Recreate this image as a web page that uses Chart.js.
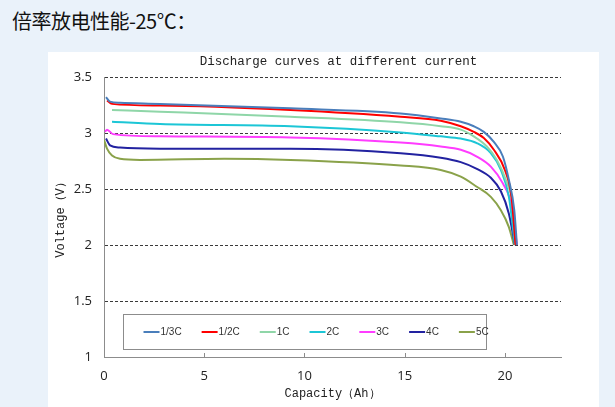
<!DOCTYPE html>
<html>
<head>
<meta charset="utf-8">
<script src="https://cdn.jsdelivr.net/npm/chart.js@4.4.1/dist/chart.umd.min.js"></script>
<style>
    html, body { margin: 0; padding: 0; }
    body { width: 615px; height: 407px; background: #eaf2fa; position: relative; overflow: hidden; }
    .page-title { position: absolute; left: 12px; top: 6px; font-family: 'Noto Sans CJK SC'; font-size: 20px; color: #111; letter-spacing: -0.5px; }
    .panel { position: absolute; left: 48px; top: 52px; width: 551px; height: 360px; background: #fff; }
    #chart { position: absolute; left: 0; top: 0; }
</style>
</head>
<body>
<div class="page-title">倍率放电性能-25℃：</div>
<div class="panel"></div>
<canvas id="chart" width="615" height="407"></canvas>
<script>
// Series labels and colours
const seriesLabels = ['1/3C', '1/2C', '1C', '2C', '3C', '4C', '5C'];
const seriesColors = ['#4a7ebb', '#ff0000', '#8fd6a8', '#1cc6d6', '#ff3cff', '#2222a0', '#8aa24a'];
const chartTitle = 'Discharge curves at different current';

// Capacity (Ah) / voltage (V), one pair per curve
const cap13 = [0.1, 0.3, 0.8, 2.8, 9.3, 14.8, 16.8, 17.8, 18.45, 18.95, 19.45, 19.9, 20.2, 20.47, 20.6];
const volt13 = [3.32, 3.28, 3.27, 3.26, 3.22, 3.175, 3.13, 3.10, 3.06, 3.01, 2.92, 2.79, 2.58, 2.31, 2.0];

const cap12 = [0.15, 0.4, 2.8, 9.3, 14.8, 16.8, 17.8, 18.45, 18.95, 19.45, 20.0, 20.33, 20.53];
const volt12 = [3.29, 3.26, 3.245, 3.205, 3.145, 3.11, 3.06, 3.01, 2.955, 2.85, 2.67, 2.43, 2.0];

const cap1 = [0.4, 2.8, 9.3, 14.8, 16.8, 17.8, 18.45, 19.1, 19.6, 20.05, 20.4, 20.55];
const volt1 = [3.205, 3.19, 3.145, 3.095, 3.06, 3.03, 2.97, 2.88, 2.76, 2.58, 2.34, 2.0];

const cap2 = [0.4, 2.8, 9.3, 14.8, 16.8, 17.8, 18.6, 19.3, 19.8, 20.2, 20.5];
const volt2 = [3.10, 3.08, 3.06, 3.005, 2.97, 2.95, 2.91, 2.82, 2.67, 2.43, 2.0];

const cap3 = [0.05, 0.15, 0.45, 2.8, 9.3, 14.8, 16.8, 17.8, 18.6, 19.3, 19.9, 20.35, 20.6];
const volt3 = [3.01, 3.03, 2.99, 2.97, 2.96, 2.915, 2.88, 2.85, 2.79, 2.70, 2.55, 2.34, 2.0];

const cap4 = [0.1, 0.3, 0.8, 2.8, 9.3, 14.8, 16.8, 17.8, 18.6, 19.3, 19.8, 20.2, 20.5];
const volt4 = [2.95, 2.89, 2.87, 2.86, 2.86, 2.82, 2.78, 2.74, 2.68, 2.60, 2.48, 2.28, 2.0];

const cap5 = [0, 0.15, 0.4, 0.8, 1.8, 6, 9.3, 14.8, 16.8, 17.8, 18.6, 19.3, 19.8, 20.2, 20.45];
const volt5 = [2.94, 2.86, 2.80, 2.77, 2.76, 2.77, 2.76, 2.71, 2.67, 2.61, 2.52, 2.43, 2.31, 2.16, 2.0];

const capArrays = [cap13, cap12, cap1, cap2, cap3, cap4, cap5];
const voltArrays = [volt13, volt12, volt1, volt2, volt3, volt4, volt5];

// Axis settings
const xMin = 0, xMax = 22.8, xStep = 5;
const yMin = 1, yMax = 3.5, yStep = 0.5;

const datasets = seriesLabels.map((label, i) => ({
    label: label,
    data: capArrays[i].map((c, j) => ({ x: c, y: voltArrays[i][j] })),
    borderColor: seriesColors[i],
    backgroundColor: seriesColors[i],
    borderWidth: 2,
    pointRadius: 0,
    fill: false,
    cubicInterpolationMode: 'monotone'
}));

// Chart title (centred a bit right of the plot centre, like the original),
// small tick marks pointing up into the plot, and the boxed legend inside the plot
const extras = {
    id: 'extras',
    afterDraw(chart) {
        const ctx = chart.ctx;
        const area = chart.chartArea;
        const xs = chart.scales.x;
        ctx.save();

        // title
        ctx.font = '12.5px "Liberation Mono"';
        ctx.fillStyle = '#222';
        ctx.textAlign = 'center';
        ctx.textBaseline = 'middle';
        ctx.fillText(chartTitle, (area.left + area.right) / 2 + 6, area.top - 15);

        // x ticks
        ctx.strokeStyle = '#8c8c8c';
        ctx.lineWidth = 1;
        xs.ticks.forEach(t => {
            if (t.value === xMin) return;
            const px = Math.round(xs.getPixelForValue(t.value)) + 0.5;
            ctx.beginPath();
            ctx.moveTo(px, area.bottom);
            ctx.lineTo(px, area.bottom - 4);
            ctx.stroke();
        });

        // legend box
        const left = area.left + 19.5, top = area.top + 237.5;
        const w = 363, h = 35;
        ctx.fillStyle = '#fff';
        ctx.fillRect(left, top, w, h);
        ctx.strokeRect(left, top, w, h);
        ctx.font = '10px "Liberation Sans"';
        ctx.textAlign = 'left';
        ctx.fillStyle = '#333';
        let x = left + 20;
        const y = top + h / 2;
        chart.data.datasets.forEach(ds => {
            ctx.strokeStyle = ds.borderColor;
            ctx.lineWidth = 2;
            ctx.beginPath();
            ctx.moveTo(x, y);
            ctx.lineTo(x + 16, y);
            ctx.stroke();
            ctx.fillText(ds.label, x + 17, y);
            x += 17 + ctx.measureText(ds.label).width + 20;
        });
        ctx.restore();
    }
};

new Chart(document.getElementById('chart').getContext('2d'), {
    type: 'line',
    data: { datasets: datasets },
    options: {
        responsive: false,
        animation: false,
        layout: { padding: { left: 48, right: 54, top: 77, bottom: 0 } },
        plugins: {
            legend: { display: false },
            tooltip: { enabled: false },
            title: { display: false }
        },
        scales: {
            x: {
                type: 'linear',
                min: xMin,
                max: xMax,
                afterFit(scale) { scale.height = 50; },
                ticks: {
                    stepSize: xStep,
                    includeBounds: false,
                    padding: 11,
                    color: '#222',
                    font: { family: '"Open Sans"', size: 13 },
                    maxRotation: 0,
                    callback: v => String(v)
                },
                grid: { display: false, drawTicks: false },
                border: { display: true, color: '#8c8c8c', width: 1 },
                title: {
                    display: true,
                    text: 'Capacity（Ah）',
                    color: '#222',
                    font: { family: '"Liberation Mono"', size: 12 },
                    padding: { top: 0, bottom: 6 }
                }
            },
            y: {
                min: yMin,
                max: yMax,
                afterFit(scale) { scale.width = 56; },
                ticks: {
                    stepSize: yStep,
                    padding: 12,
                    color: '#222',
                    font: { family: '"Open Sans"', size: 13 },
                    callback: v => String(v)
                },
                grid: {
                    drawTicks: false,
                    color: ctx => (ctx.tick && ctx.tick.value === yMin) ? 'rgba(0,0,0,0)' : '#3a3a3a',
                    lineWidth: 1
                },
                border: { display: true, color: '#8c8c8c', width: 1, dash: [3, 2] },
                title: {
                    display: true,
                    text: 'Voltage（V）',
                    color: '#222',
                    font: { family: '"Liberation Mono"', size: 12 },
                    padding: { top: 6, bottom: 0 }
                }
            }
        }
    },
    plugins: [extras]
});
</script>
</body>
</html>
